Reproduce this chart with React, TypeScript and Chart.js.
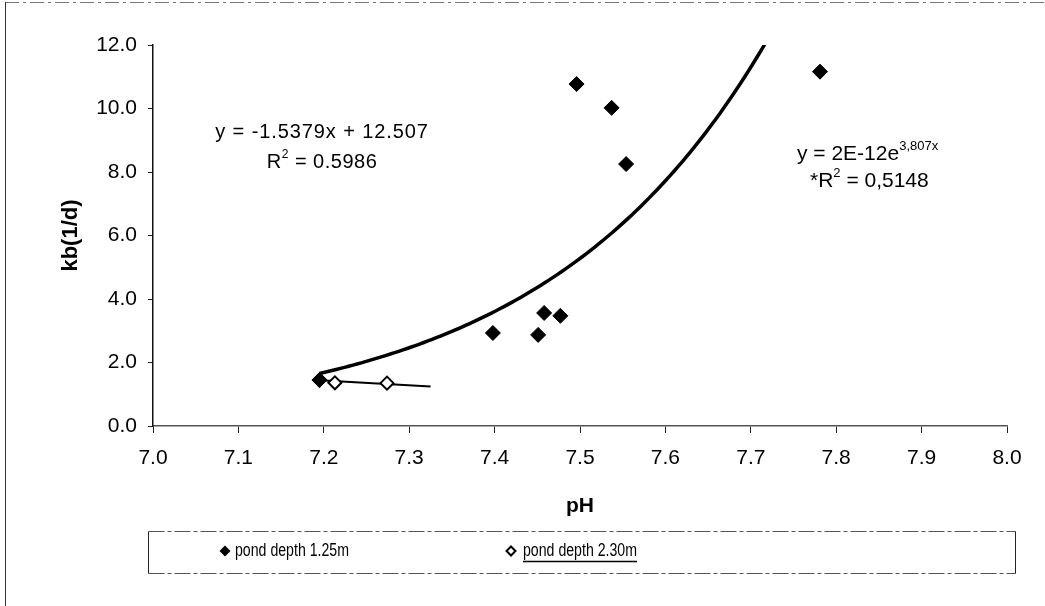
import React, { useEffect, useRef } from "react";
import { Chart, registerables } from "chart.js";

Chart.register(...registerables);

// Measured decay rate kb (1/d) against pH for two pond depths
const depth125_pH = [7.195, 7.398, 7.451, 7.458, 7.477, 7.496, 7.537, 7.554, 7.781];
const depth125_kb = [1.45, 2.93, 2.87, 3.56, 3.47, 10.77, 10.02, 8.25, 11.16];

const depth230_pH = [7.195, 7.213, 7.274];
const depth230_kb = [1.45, 1.36, 1.35];

const xTicks = [7.0, 7.1, 7.2, 7.3, 7.4, 7.5, 7.6, 7.7, 7.8, 7.9, 8.0];
const yTicks = [0, 2, 4, 6, 8, 10, 12];

const seriesNames = ["pond depth 1.25m", "pond depth 2.30m"];

// Trendlines: exponential fit over the 1.25m series, linear fit over the 2.30m series
const EXP_COEF = 2.1e-12; // printed rounded as "2E-12"
const EXP_RATE = 3.807;
const LIN_SLOPE = -1.5379;
const LIN_INTERCEPT = 12.507;
const LIN_RANGE = [7.195, 7.325];

const FONT = "'Liberation Sans', Arial, Helvetica, sans-serif";

function expTrend() {
  const lo = Math.min(...depth125_pH);
  const hi = Math.max(...depth125_pH);
  const pts: { x: number; y: number }[] = [];
  const n = 120;
  for (let i = 0; i <= n; i++) {
    const x = lo + ((hi - lo) * i) / n;
    pts.push({ x, y: EXP_COEF * Math.exp(EXP_RATE * x) });
  }
  return pts;
}

function linTrend() {
  return LIN_RANGE.map((x) => ({ x, y: LIN_SLOPE * x + LIN_INTERCEPT }));
}

type Seg = { t: string; sup?: boolean };

function drawRich(
  ctx: CanvasRenderingContext2D,
  segs: Seg[],
  x: number,
  y: number,
  size: number,
  align: "left" | "center",
  spacing: number
) {
  const supSize = Math.round(size * 0.6);
  (ctx as any).letterSpacing = spacing + "px";
  const widths = segs.map((s) => {
    ctx.font = `${s.sup ? supSize : size}px ${FONT}`;
    return ctx.measureText(s.t).width;
  });
  const total = widths.reduce((a, b) => a + b, 0);
  let cx = align === "center" ? x - total / 2 : x;
  ctx.textAlign = "left";
  ctx.textBaseline = "middle";
  ctx.fillStyle = "#000";
  segs.forEach((s, i) => {
    ctx.font = `${s.sup ? supSize : size}px ${FONT}`;
    ctx.fillText(s.t, cx, s.sup ? y - size * 0.36 : y);
    cx += widths[i];
  });
  (ctx as any).letterSpacing = "0px";
}

// condensed label: drawn at the given size, squeezed horizontally to a width
function drawNarrow(ctx: CanvasRenderingContext2D, text: string, x: number, y: number, size: number, width: number) {
  ctx.font = `${size}px ${FONT}`;
  const w = ctx.measureText(text).width;
  ctx.save();
  ctx.translate(x, y);
  ctx.scale(width / w, 1);
  ctx.textAlign = "left";
  ctx.textBaseline = "middle";
  ctx.fillStyle = "#000";
  ctx.fillText(text, 0, 0);
  ctx.restore();
}

function diamond(ctx: CanvasRenderingContext2D, x: number, y: number, r: number, filled: boolean) {
  ctx.beginPath();
  ctx.moveTo(x, y - r);
  ctx.lineTo(x + r, y);
  ctx.lineTo(x, y + r);
  ctx.lineTo(x - r, y);
  ctx.closePath();
  if (filled) {
    ctx.fillStyle = "#000";
    ctx.fill();
  } else {
    ctx.fillStyle = "#fff";
    ctx.fill();
    ctx.lineWidth = 2;
    ctx.strokeStyle = "#000";
    ctx.stroke();
  }
}

const framePlugin = {
  id: "frame",
  beforeDraw(chart: any) {
    const ctx = chart.ctx as CanvasRenderingContext2D;
    ctx.save();
    ctx.fillStyle = "#fff";
    ctx.fillRect(0, 0, chart.width, chart.height);
    ctx.strokeStyle = "#777";
    ctx.lineWidth = 1;
    ctx.setLineDash([14, 4, 3, 4]);
    ctx.beginPath();
    ctx.moveTo(5, 2.5);
    ctx.lineTo(chart.width, 2.5);
    ctx.stroke();
    ctx.setLineDash([]);
    ctx.strokeStyle = "#333";
    ctx.beginPath();
    ctx.moveTo(5.5, 2);
    ctx.lineTo(5.5, chart.height);
    ctx.stroke();
    ctx.restore();
  },
};

const notesPlugin = {
  id: "notes",
  afterDraw(chart: any) {
    const ctx = chart.ctx as CanvasRenderingContext2D;
    ctx.save();
    // linear fit equation
    drawRich(ctx, [{ t: "y = -1.5379x + 12.507" }], 322, 132, 20, "center", 0.9);
    drawRich(ctx, [{ t: "R" }, { t: "2", sup: true }, { t: " = 0.5986" }], 322, 162, 20, "center", 0.5);
    // exponential fit equation
    drawRich(ctx, [{ t: "y = 2E-12e" }, { t: "3,807x", sup: true }], 797, 154, 21, "left", 0);
    drawRich(ctx, [{ t: "*R" }, { t: "2", sup: true }, { t: " = 0,5148" }], 810, 181, 21, "left", 0);

    // legend box
    const bx = 148.5, by = 531.5, bw = 867, bh = 42;
    ctx.strokeStyle = "#555";
    ctx.lineWidth = 1;
    ctx.setLineDash([16, 3, 4, 3]);
    ctx.beginPath();
    ctx.moveTo(bx, by);
    ctx.lineTo(bx + bw, by);
    ctx.moveTo(bx, by + bh);
    ctx.lineTo(bx + bw, by + bh);
    ctx.stroke();
    ctx.setLineDash([]);
    ctx.strokeStyle = "#222";
    ctx.beginPath();
    ctx.moveTo(bx, by);
    ctx.lineTo(bx, by + bh);
    ctx.moveTo(bx + bw, by);
    ctx.lineTo(bx + bw, by + bh);
    ctx.stroke();

    const ly = 551;
    diamond(ctx, 225, ly, 5.5, true);
    drawNarrow(ctx, seriesNames[0], 235, ly, 18, 114);
    diamond(ctx, 511, ly, 4.5, false);
    drawNarrow(ctx, seriesNames[1], 523, ly, 18, 114);
    ctx.strokeStyle = "#000";
    ctx.lineWidth = 1.5;
    ctx.beginPath();
    ctx.moveTo(523, ly + 10.5);
    ctx.lineTo(637, ly + 10.5);
    ctx.stroke();
    ctx.restore();
  },
};

export default function App() {
  const ref = useRef<HTMLCanvasElement | null>(null);

  useEffect(() => {
    if (!ref.current) return;
    const chart = new Chart(ref.current, {
      type: "scatter",
      data: {
        datasets: [
          {
            label: "exp fit",
            data: expTrend(),
            showLine: true,
            borderColor: "#000",
            borderWidth: 3.5,
            pointRadius: 0,
            tension: 0,
            order: 3,
          },
          {
            label: "linear fit",
            data: linTrend(),
            showLine: true,
            borderColor: "#000",
            borderWidth: 2,
            pointRadius: 0,
            order: 3,
          },
          {
            label: seriesNames[1],
            data: depth230_pH.map((x, i) => ({ x, y: depth230_kb[i] })),
            pointStyle: "rectRot",
            pointRadius: 6.5,
            pointBackgroundColor: "#fff",
            pointBorderColor: "#000",
            pointBorderWidth: 2,
            order: 2,
          },
          {
            label: seriesNames[0],
            data: depth125_pH.map((x, i) => ({ x, y: depth125_kb[i] })),
            pointStyle: "rectRot",
            pointRadius: 7.5,
            pointBackgroundColor: "#000",
            pointBorderColor: "#000",
            pointBorderWidth: 1,
            order: 1,
          },
        ],
      },
      options: {
        animation: false,
        responsive: false,
        devicePixelRatio: 1,
        layout: { padding: { left: 0, top: 45, right: 38, bottom: 80 } },
        plugins: { legend: { display: false }, tooltip: { enabled: false } },
        scales: {
          x: {
            type: "linear",
            min: 7,
            max: 8,
            afterBuildTicks: (s: any) => {
              s.ticks = xTicks.map((v) => ({ value: v }));
            },
            afterFit: (s: any) => {
              s.height = 100;
            },
            ticks: {
              callback: (v: any) => Number(v).toFixed(1),
              color: "#000",
              font: { family: FONT, size: 21 },
              padding: 13,
              maxRotation: 0,
            },
            grid: { display: true, drawOnChartArea: false, drawTicks: true, tickLength: 7, color: "#222" },
            border: { display: true, color: "#555", width: 1.5, dash: [12, 4] },
            title: {
              display: true,
              text: "pH",
              color: "#000",
              font: { family: FONT, size: 21, weight: "bold" },
              padding: { top: 0, bottom: 7 },
            },
          },
          y: {
            type: "linear",
            min: 0,
            max: 12,
            afterBuildTicks: (s: any) => {
              s.ticks = yTicks.map((v) => ({ value: v }));
            },
            afterFit: (s: any) => {
              s.width = 153;
            },
            ticks: {
              callback: (v: any) => Number(v).toFixed(1),
              color: "#000",
              font: { family: FONT, size: 21 },
              padding: 11,
            },
            grid: { display: true, drawOnChartArea: false, drawTicks: true, tickLength: 5, color: "#222" },
            border: { display: true, color: "#111", width: 1.5 },
            title: {
              display: true,
              text: "kb(1/d)",
              color: "#000",
              font: { family: FONT, size: 22, weight: "bold" },
              padding: { top: 58, bottom: 0 },
            },
          },
        },
      },
      plugins: [framePlugin, notesPlugin],
    });
    return () => chart.destroy();
  }, []);

  return (
    <div style={{ position: "absolute", left: 0, top: 0, width: 1045, height: 606, background: "#fff" }}>
      <canvas ref={ref} width={1045} height={606} style={{ display: "block" }} />
    </div>
  );
}
